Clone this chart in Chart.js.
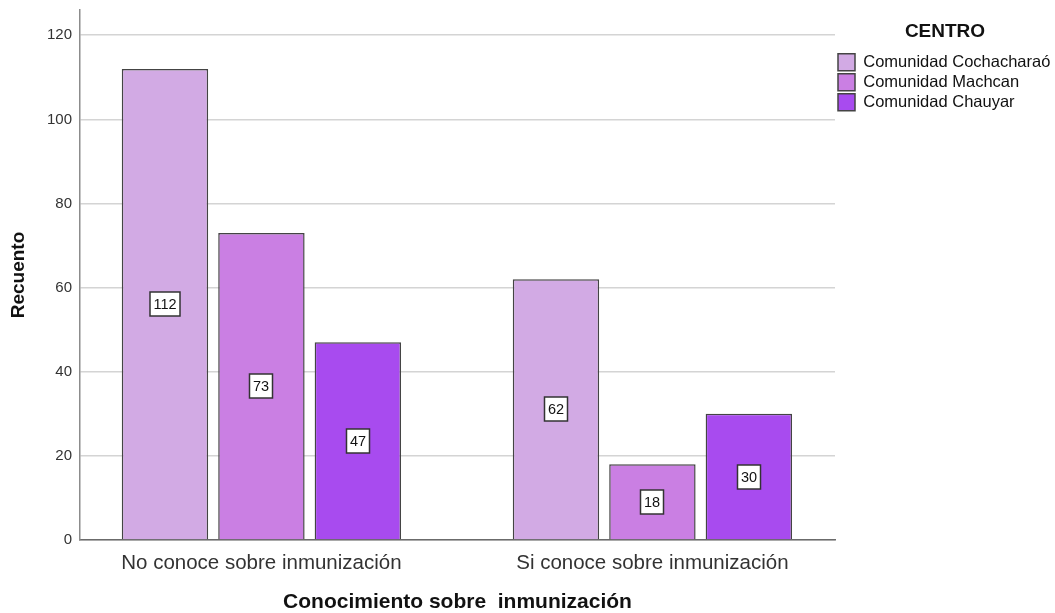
<!DOCTYPE html>
<html lang="es">
<head>
    <meta charset="UTF-8">
    <title>Conocimiento sobre inmunización</title>
    <script src="https://cdn.jsdelivr.net/npm/chart.js"></script>
    <style>
        html, body { margin: 0; padding: 0; background: #fff; }
        #wrap { width: 1055px; height: 613px; position: relative; }
    </style>
</head>
<body>
    <div id="wrap"><canvas id="chart"></canvas></div>

    <script>
        // data
        const categories = ['No conoce sobre inmunización', 'Si conoce sobre inmunización'];
        const centros = ['Comunidad Cochacharaó', 'Comunidad Machcan', 'Comunidad Chauyar'];
        const cochacharao = [112, 62];
        const machcan = [73, 18];
        const chauyar = [47, 30];
        const yTicks = [0, 20, 40, 60, 80, 100, 120];

        const colors = ['#d2aae4', '#ca7fe3', '#a84bef'];
        const FONT = "'Liberation Sans', Arial, sans-serif";

        const seriesList = [cochacharao, machcan, chauyar];

        // white value boxes in the middle of every bar
        const valueBoxes = {
            id: 'valueBoxes',
            afterDatasetsDraw(chart) {
                const ctx = chart.ctx;
                ctx.save();
                ctx.font = '14.5px ' + FONT;
                ctx.textAlign = 'center';
                ctx.textBaseline = 'middle';
                chart.data.datasets.forEach((ds, di) => {
                    const meta = chart.getDatasetMeta(di);
                    meta.data.forEach((bar, i) => {
                        const txt = String(seriesList[di][i]);
                        const cx = Math.round(bar.x);
                        const cy = Math.round((bar.y + bar.base) / 2);
                        const w = Math.round(ctx.measureText(txt).width) + 7;
                        const h = 24;
                        ctx.fillStyle = '#fff';
                        ctx.fillRect(cx - w / 2, cy - h / 2, w, h);
                        ctx.strokeStyle = '#333';
                        ctx.lineWidth = 1.5;
                        ctx.strokeRect(cx - w / 2, cy - h / 2, w, h);
                        ctx.fillStyle = '#111';
                        ctx.fillText(txt, cx, cy + 1);
                    });
                });
                ctx.restore();
            }
        };

        const ctx = document.getElementById('chart').getContext('2d');
        new Chart(ctx, {
            type: 'bar',
            data: {
                datasets: seriesList.map((vals, k) => ({
                    label: centros[k],
                    data: vals.map((v, i) => ({ x: i, y: v })),
                    backgroundColor: colors[k],
                    borderColor: '#444',
                    borderWidth: 1.5,
                    categoryPercentage: 0.74,
                    barPercentage: 0.896
                }))
            },
            options: {
                responsive: true,
                maintainAspectRatio: false,
                animation: false,
                layout: { padding: { top: 10, left: 0, right: 0, bottom: 0 } },
                plugins: {
                    tooltip: { enabled: false },
                    legend: {
                        position: 'right',
                        align: 'start',
                        maxWidth: 220,
                        title: {
                            display: true,
                            text: 'CENTRO',
                            color: '#111',
                            font: { family: FONT, size: 19, weight: 'bold' },
                            padding: { top: 12, bottom: 6 }
                        },
                        labels: {
                            boxWidth: 17,
                            boxHeight: 17,
                            padding: 3,
                            color: '#111',
                            font: { family: FONT, size: 16.5 }
                        }
                    }
                },
                scales: {
                    x: {
                        type: 'linear',
                        offset: false,
                        min: -0.464,
                        max: 1.467,
                        afterBuildTicks: s => { s.ticks = categories.map((c, i) => ({ value: i })); },
                        afterFit: s => { s.height = 73; },
                        grid: { display: false, drawTicks: false, offset: false },
                        border: { display: true, color: '#6b6b6b', width: 1.5 },
                        ticks: {
                            autoSkip: false,
                            maxRotation: 0,
                            padding: 11,
                            color: '#333',
                            font: { family: FONT, size: 20.5 },
                            callback: v => categories[v]
                        },
                        title: {
                            display: true,
                            text: 'Conocimiento sobre  inmunización',
                            color: '#111',
                            font: { family: FONT, size: 21, weight: 'bold', lineHeight: 1 },
                            padding: { top: 0, bottom: 0 }
                        }
                    },
                    y: {
                        min: 0,
                        max: 126,
                        afterBuildTicks: s => { s.ticks = yTicks.map(v => ({ value: v })); },
                        afterFit: s => {
                            s.width = 80;
                            s.paddingTop = 0;
                            s.paddingBottom = 0;
                        },
                        grid: { color: '#d4d4d4', lineWidth: 1.5, drawTicks: false },
                        border: { display: true, color: '#8c8c8c', width: 1.5 },
                        ticks: {
                            padding: 8,
                            color: '#333',
                            font: { family: FONT, size: 15 }
                        },
                        title: {
                            display: true,
                            text: 'Recuento',
                            color: '#111',
                            font: { family: FONT, size: 19, weight: 'bold' },
                            padding: { top: 7, bottom: 0 }
                        }
                    }
                }
            },
            plugins: [valueBoxes]
        });
    </script>
</body>
</html>
